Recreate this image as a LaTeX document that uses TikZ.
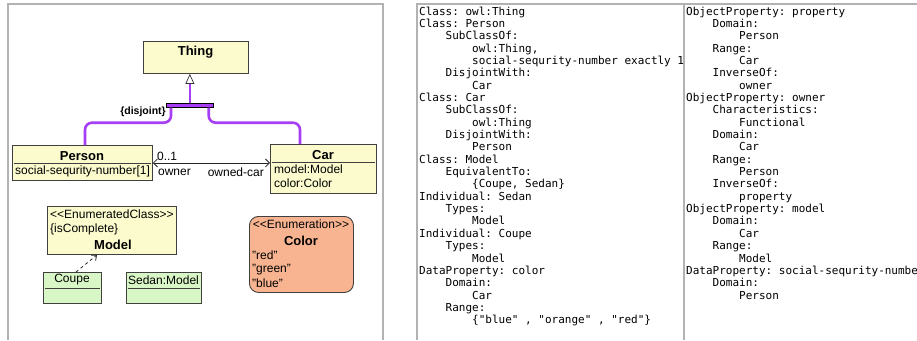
\documentclass[tikz,border=0pt]{standalone}
\usepackage{fontspec}
\setmainfont{Liberation Sans}
\setmonofont{DejaVu Sans Mono}
\usepackage{tikz}
\usetikzlibrary{arrows.meta}
\definecolor{classfill}{RGB}{251,251,206}
\definecolor{instfill}{RGB}{217,246,198}
\definecolor{enumfill}{RGB}{248,180,144}
\definecolor{genpurple}{RGB}{166,62,245}
\definecolor{panelgray}{RGB}{178,178,178}
\tikzset{
  umlbox/.style={draw=black!75, line width=0.9pt, inner sep=0pt, anchor=north west},
  umltitle/.style={font=\fontsize{13}{14}\selectfont\bfseries, inner sep=0pt},
  umltext/.style={font=\fontsize{12}{13}\selectfont, inner sep=0pt, anchor=west},
  genline/.style={genpurple, line width=2.6pt},
  sepline/.style={black!75, line width=0.8pt},
  owltext/.style={font=\fontsize{11}{12}\selectfont\ttfamily, inner sep=0pt, anchor=base west},
}

\begin{document}
\begin{tikzpicture}[x=1pt,y=-1pt]
\useasboundingbox[fill=white] (0,0) rectangle (917,340);

\draw[panelgray, line width=1.2pt] (8,340) -- (8,4) -- (383,4) -- (383,340);
\draw[panelgray, line width=1.2pt] (417,340) -- (417,4) -- (917,4);
\draw[panelgray, line width=1.2pt] (684,4) -- (684,340);

\node[umlbox, fill=classfill, minimum width=105pt, minimum height=32pt] (thing) at (143,41) {};
\node[umltitle] (thinglbl) at (195.5,52) {Thing};

\node[umlbox, fill=classfill, minimum width=140pt, minimum height=35pt] (person) at (12,145) {};
\node[umltitle] (personlbl) at (82,156) {Person};
\draw[sepline] ([xshift=2pt,yshift=-18pt]person.north west) -- ([xshift=-2pt,yshift=-18pt]person.north east);
\node[umltext] (ssn) at (15,171.5) {social-sequrity-number[1]};

\node[umlbox, fill=classfill, minimum width=106pt, minimum height=49pt] (car) at (270,144) {};
\node[umltitle] (carlbl) at (323,155) {Car};
\draw[sepline] ([xshift=2pt,yshift=-18pt]car.north west) -- ([xshift=-2pt,yshift=-18pt]car.north east);
\node[umltext] (carmodel) at (274,169.5) {model:Model};
\node[umltext] (carcolor) at (274,183.5) {color:Color};

\node[umlbox, fill=genpurple, draw=black, line width=0.7pt, minimum width=47pt, minimum height=4pt] (gset) at (166,103) {};
\node[anchor=east, inner sep=0pt, font=\fontsize{10.5}{11}\selectfont\bfseries] (disj) at ([yshift=-4pt]gset.south west) {\{disjoint\}};
\draw[genline, -{Triangle[length=10pt, width=9pt, color=black!80, fill=white, line width=0.7pt]}] (gset.north) -- (gset.north |- thing.south);
\draw[genline, rounded corners=7pt] ([xshift=5pt]gset.south west) -- ++(0,15) -| ([xshift=73pt]person.north west);
\draw[genline, rounded corners=7pt] ([xshift=-5pt]gset.south east) -- ++(0,15) -| ([xshift=30pt]car.north west);

\draw[black!85, line width=0.8pt, {Straight Barb[length=4pt, width=8pt]}-{Straight Barb[length=4pt, width=8pt]}] (person.east) -- (person.east -| car.west);
\node[umltext] (mult) at ([xshift=4pt,yshift=7pt]person.east) {0..1};
\node[umltext] (ownerlbl) at ([xshift=5pt,yshift=-9pt]person.east) {owner};
\node[umltext, anchor=east] (ownedlbl) at ([xshift=-6pt,yshift=-9pt]person.east -| car.west) {owned-car};

\node[umlbox, fill=classfill, minimum width=129pt, minimum height=48pt] (model) at (47,206) {};
\node[umltext] (modelst) at (50,214.5) {<{}<EnumeratedClass>{}>};
\node[umltext] (modelcomp) at (50,229.5) {\{isComplete\}};
\node[umltitle] (modellbl) at (113,245) {Model};

\node[umlbox, fill=instfill, minimum width=58pt, minimum height=31pt] (coupe) at (43,272) {};
\node[umltext, anchor=center] (coupelbl) at (72,280) {Coupe};
\draw[sepline] ([xshift=2pt,yshift=-16pt]coupe.north west) -- ([xshift=-2pt,yshift=-16pt]coupe.north east);

\node[umlbox, fill=instfill, minimum width=75pt, minimum height=31pt] (sedan) at (126,272) {};
\node[umltext, anchor=center] (sedanlbl) at (163.5,280) {Sedan:Model};
\draw[sepline] ([xshift=2pt,yshift=-16pt]sedan.north west) -- ([xshift=-2pt,yshift=-16pt]sedan.north east);

\draw[black!85, line width=0.8pt, dash pattern=on 3pt off 3pt, -{Straight Barb[length=4pt, width=7pt]}] ([xshift=33pt]coupe.north west) -- ([xshift=50pt]model.south west);

\node[umlbox, fill=enumfill, rounded corners=9pt, minimum width=104pt, minimum height=76pt] (color) at (249,216) {};
\node[umltext, anchor=center] (colorst) at (301,224.5) {<{}<Enumeration>{}>};
\node[umltitle] (colorlbl) at (301,241) {Color};
\node[umltext] (red) at (252,255.5) {"red"};
\node[umltext] (green) at (252,269.5) {"green"};
\node[umltext] (blue) at (252,283.5) {"blue"};

\foreach \lvl/\txt [count=\i] in {0/Class: owl:Thing, 0/Class: Person, 1/SubClassOf:, 2/{owl:Thing,},
  2/social-sequrity-number exactly 1, 1/DisjointWith:, 2/Car, 0/Class: Car, 1/SubClassOf:, 2/owl:Thing,
  1/DisjointWith:, 2/Person, 0/Class: Model, 1/EquivalentTo:, 2/{\{Coupe, Sedan\}}, 0/Individual: Sedan,
  1/Types:, 2/Model, 0/Individual: Coupe, 1/Types:, 2/Model, 0/DataProperty: color, 1/Domain:, 2/Car,
  1/Range:, 2/{\{"blue" , "orange" , "red"\}}}
  \node[owltext] (owla-\i) at ({419+26.5*\lvl},{15+12.35*(\i-1)}) {\txt};

\foreach \lvl/\txt [count=\i] in {0/ObjectProperty: property, 1/Domain:, 2/Person, 1/Range:, 2/Car,
  1/InverseOf:, 2/owner, 0/ObjectProperty: owner, 1/Characteristics:, 2/Functional, 1/Domain:, 2/Car,
  1/Range:, 2/Person, 1/InverseOf:, 2/property, 0/ObjectProperty: model, 1/Domain:, 2/Car, 1/Range:,
  2/Model, 0/DataProperty: social-sequrity-numbe, 1/Domain:, 2/Person}
  \node[owltext] (owlb-\i) at ({686+26.5*\lvl},{15+12.35*(\i-1)}) {\txt};
\end{tikzpicture}
\end{document}
